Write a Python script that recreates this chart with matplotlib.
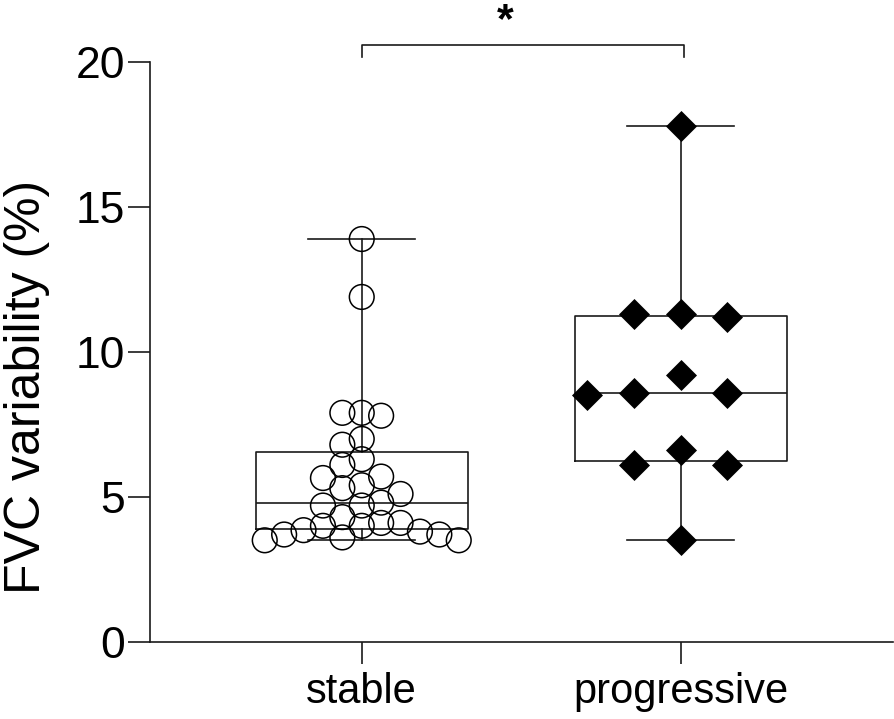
import matplotlib
matplotlib.use("Agg")
import matplotlib.pyplot as plt
import numpy as np

groups = ["stable", "progressive"]
stable = [13.9, 11.9, 7.9, 7.9, 7.8, 7.0, 6.8, 6.3, 6.1, 5.7, 5.65, 5.4, 5.3, 5.1,
          4.8, 4.7, 4.7, 4.3, 4.1, 4.1, 4.0, 4.0, 3.85, 3.8, 3.7, 3.7, 3.6, 3.5, 3.5]
progressive = [17.8, 11.3, 11.3, 11.2, 9.2, 8.6, 8.6, 8.5, 6.6, 6.1, 6.1, 3.5]

# whisker low, q1, median, q3, whisker high (as drawn in the figure)
stable_box = [3.5, 3.88, 4.8, 6.54, 13.9]
progressive_box = [3.5, 6.25, 8.59, 11.24, 17.8]

ylabel = "FVC variability (%)"
yticks = [0, 5, 10, 15, 20]

plt.rcParams["font.family"] = ["Liberation Sans", "DejaVu Sans"]
LINE = "#1a1a1a"


def swarm_offsets(ax, values, step_px, min_px):
    """Greedy beeswarm on a grid of columns, done in pixel space."""
    values = np.asarray(values, dtype=float)
    ys = ax.transData.transform(np.column_stack([np.zeros(len(values)), values]))[:, 1]
    order = np.argsort(-values, kind="stable")
    cands = [0]
    for k in range(1, 25):
        cands += [-k, k]
    placed = []
    offsets = np.zeros(len(values))
    for i in order:
        for k in cands:
            x = k * step_px
            if all(np.hypot(x - px, ys[i] - py) >= min_px for px, py in placed):
                break
        placed.append((x, ys[i]))
        offsets[i] = x
    unit = ax.transData.transform((1, 0))[0] - ax.transData.transform((0, 0))[0]
    return offsets / unit


fig = plt.figure(figsize=(8.94, 7.19), dpi=100)
ax = fig.add_axes([150 / 894, 77.3 / 719, 743 / 894, 579.4 / 719])
ax.set_xlim(-0.664, 1.666)
ax.set_ylim(0, 20)

stats = []
for name, b in zip(groups, [stable_box, progressive_box]):
    stats.append(dict(label=name, whislo=b[0], q1=b[1], med=b[2], q3=b[3], whishi=b[4], fliers=[]))
line_kw = dict(color=LINE, linewidth=1.2)
ax.bxp(stats, positions=[0, 1], widths=0.665, capwidths=0.335, showfliers=False,
       boxprops=line_kw, whiskerprops=line_kw, capprops=line_kw, medianprops=line_kw,
       manage_ticks=False, zorder=2)

off_s = swarm_offsets(ax, stable, 19.4, 19.0)
ax.scatter(off_s, stable, s=17.8 ** 2, facecolors="none", edgecolors="black",
           linewidths=1.1, zorder=3, clip_on=False)
off_p = swarm_offsets(ax, progressive, 23.3, 40.0)
ax.scatter(1 + off_p, progressive, marker="D", s=15.8 ** 2, color="black",
           linewidths=0, zorder=3, clip_on=False)

# significance bracket
ax.plot([0, 0, 1.01, 1.01], [20.17, 20.6, 20.6, 20.17], color=LINE, linewidth=1.2,
        clip_on=False)
ax.text(0.45, 21.05, "*", ha="center", va="baseline", fontsize=31, fontweight="bold")

ax.spines[["top", "right"]].set_visible(False)
for sp in ("left", "bottom"):
    ax.spines[sp].set_linewidth(1.2)
    ax.spines[sp].set_color(LINE)
ax.set_yticks(yticks)
ax.set_xticks([0, 1], groups)
ax.tick_params(axis="both", length=15.8, width=1.2, color=LINE)
ax.tick_params(axis="y", labelsize=32, pad=2)
ax.tick_params(axis="x", labelsize=30, pad=6)
ax.set_ylabel(ylabel, fontsize=36)
ax.yaxis.set_label_coords(-0.134, 0.44)

fig.savefig("out.png", dpi=100)
